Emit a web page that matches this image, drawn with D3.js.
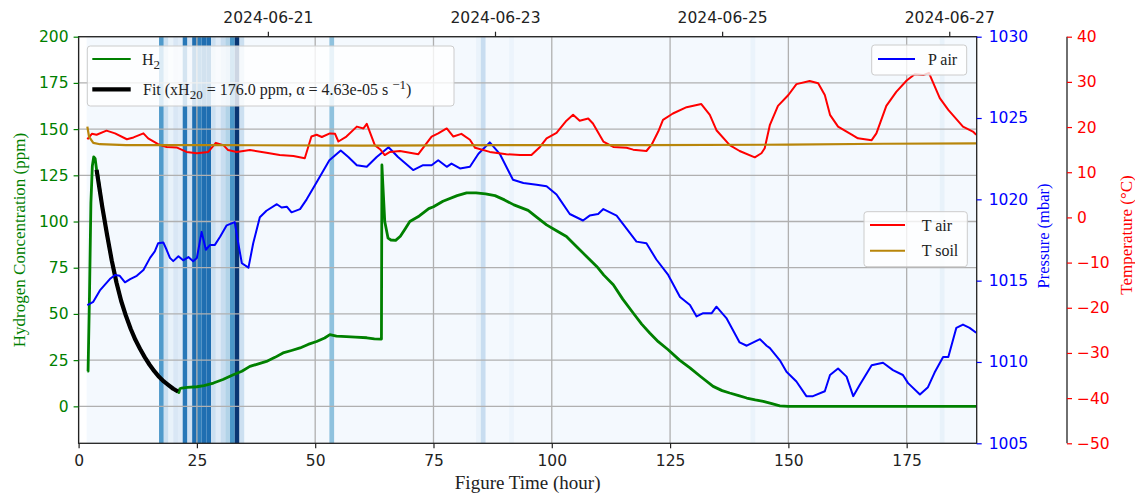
<!DOCTYPE html>
<html><head><meta charset="utf-8">
<script src="https://cdn.jsdelivr.net/npm/d3@7"></script>
<style>body{margin:0;background:#fff} svg{display:block}</style>
</head><body>
<svg id="chart" width="1135" height="496"></svg>
<script>
// ---------------- DATA ----------------
const h2Hours = [1.85,2.0,2.3,2.6,2.9,3.2,3.5,3.8,4.0,5,6,7,8,9,10,11,12,13,14,15,16,17,18,19,20,20.9,21.2,21.4,21.8,23,25,26.5,28.5,30.5,32.7,34.5,36.2,38,39.7,41.5,43.2,45,46.8,48.5,50.3,52,53.1,54.5,56.6,58.5,60.9,62.5,64.0,64.1,64.3,64.7,65.4,66,67,68,69,70,72,74,75,77,80,82,84,86,88,90,92,95,97,98.9,101,103.1,105,107.4,109.5,111,113,115,117.2,119,120.7,122.5,124.6,127,129.2,131.5,134.1,136,137.6,139.5,141.2,143,144.7,146.5,148.2,150,189.8];
const h2Ppm   = [19,19,60,110,130,135,134,128,126,108,93,79,67,57,49,42,36,31,26.5,22.5,19,16,13.5,11.5,9.5,8,7.5,9.5,9.9,10.3,10.6,11.2,12.6,14.5,17.1,19,21.6,23,24.3,26.5,28.9,30.2,31.6,33.5,35.1,37,38.8,38,37.7,37.5,37.1,36.5,36.4,130.6,120,100,91,90,89.8,92,96,100,103,107,108,111,114,115.5,115.5,115,114,111.7,109,106,102,98.2,95,91.9,87,81,75.7,71,65.8,58,50.5,44.5,39.7,35,30.6,25,20.8,16,10.8,8.5,7.2,5.8,4.5,3.5,2.7,1.5,0.3,0,0];

const fitHours = [3.8,5,6,7,8,9,10,11,12,13,14,15,16,17,18,19,20,21];
const fitPpm   = [128,108,93,79,67,57,49,42,36,31,26.5,22.5,19,16,13.5,11.5,9.5,8];

const pHours = [1.85,3.1,4.5,6.6,7.7,8.7,9.8,10.9,12.3,13.7,15.1,16.1,16.8,17.9,18.6,19.3,20,21.1,22.1,23.2,24.2,25,26,26.9,27.8,28.8,29.9,31.3,33,33.5,34.5,35.9,36.9,38.3,39.7,41.9,42.9,44,45,46.8,48.2,50,53,55.4,57,58.8,60.9,63,65.5,67.5,70.7,72.8,74.6,76,77.8,78.8,80.6,82.7,84.5,86.9,89,91.8,94,96.8,98.9,101,101.7,103.8,106.6,108,109.8,110.9,113.7,115.8,117.9,120,122.1,124.6,127.1,129.2,130.6,132,133.8,134.8,136.9,139.7,141.2,144,145.4,146.1,148.2,149.6,151.7,153.8,155.2,157.7,158.8,160.5,162.3,163.7,165.1,167.6,170,172.1,174.2,175.3,177.8,179.5,180.9,182.7,183.8,185.5,186.9,188.3,189.7];
const pMbar  = [1013.5,1013.7,1014.4,1015.1,1015.35,1015.3,1014.9,1015.1,1015.3,1015.65,1016.4,1016.8,1017.3,1017.35,1016.9,1016.4,1016.2,1016.5,1016.25,1016.45,1016.2,1016.4,1018.0,1016.9,1017.2,1017.2,1017.7,1018.4,1018.6,1017.7,1016.07,1015.8,1017.3,1018.9,1019.3,1019.7,1019.5,1019.55,1019.2,1019.4,1020.0,1020.9,1022.4,1023.0,1022.6,1022.1,1022.0,1022.6,1023.2,1022.6,1021.8,1022.1,1022.1,1022.4,1022.0,1022.2,1021.9,1022.0,1022.8,1023.5,1022.8,1021.2,1021.0,1020.9,1020.8,1020.3,1020.0,1019.1,1018.7,1019.0,1019.1,1019.4,1019.0,1018.2,1017.4,1017.3,1016.3,1015.35,1014.0,1013.5,1012.8,1013.0,1013.0,1013.4,1012.7,1011.2,1011.0,1011.4,1011.0,1010.85,1010.1,1009.4,1008.8,1007.9,1007.9,1008.2,1009.2,1009.6,1009.1,1007.9,1008.6,1009.8,1009.95,1009.5,1009.2,1008.7,1008.0,1008.45,1009.35,1010.3,1010.3,1012.1,1012.3,1012.1,1011.8];

const tAirHours = [1.85,2.8,3.8,5.9,7.7,10.2,11.6,13.7,14.7,16.8,18.6,20.7,22.8,25,27.4,29,30.6,31.6,33.4,36.2,39.7,42.5,45.4,47.8,49.2,50.3,51.4,53.1,54.2,54.9,56.6,58.8,60.2,60.9,62.6,63.7,64.7,65.8,67.9,71.8,74.6,76,77.8,79.2,80.9,82.7,83.8,86.9,90.4,93.3,95.7,97.5,98.9,101,103.1,104.5,105.9,107.7,108.7,110.9,113,115.8,117.2,120,121.1,122.5,123.5,125.6,128.5,131.6,133.4,134.8,137.6,139.7,142.9,144.3,145,146.1,147.8,150,151.7,154.5,156.3,157.7,158.8,160.5,162.3,163.3,164.7,167.6,168.6,170.7,172.8,175,176.7,178.5,179.7,182,183.8,186.9,189,189.7];
const tAirC = [17.3,18.5,18.3,19.2,18.6,17.3,17.7,18.6,17.5,16.2,15.6,15.5,14.5,14.2,14.5,16.5,16.0,14.9,14.5,14.9,14.3,13.8,13.6,13.1,17.9,18.3,17.8,18.6,18.5,16.8,17.9,20.1,19.7,20.7,16.0,15.1,13.8,14.5,14.7,14.0,17.9,18.6,19.7,17.9,18.5,17.2,15.4,14.5,14.0,13.8,13.8,15.6,17.5,18.7,21.4,22.7,21.4,21.9,20.8,16.8,15.6,15.4,15.0,14.7,16.1,19.0,21.6,23.0,24.4,25.1,22.7,19.3,16.0,14.7,13.3,14.2,15.3,20.5,24.7,27.1,29.5,30.2,29.7,27.1,22.7,20.1,19.0,18.4,17.5,17.1,18.6,24.7,27.8,30.3,31.7,31.5,32.0,26.4,23.8,20.1,19.0,18.3];

const tSoilHours = [1.85,2.2,3.1,4.5,10,30,60,90,120,150,170,189.7];
const tSoilC = [20.1,17.9,16.5,16.2,16.0,16.0,15.9,16.0,16.0,16.1,16.3,16.4];

// rain intensity bands (hour cell start, relative intensity 0..1)
const rainHours = [17,18,19,20,21,22,23,24,25,26,27,28,29,30,31,32,33,34,53,84,85,91,142,182];
const rainLevel = [0.58,0.2,0.06,0.14,0.1,0.72,0.18,0.76,0.7,0.76,0.76,0.2,0.1,0.22,0.3,0.6,0.98,0.2,0.4,0.05,0.22,0.04,0.05,0.06];
const rainStartHour = 1.7;

const xTicks = [0,25,50,75,100,125,150,175];
const yTicks = [0,25,50,75,100,125,150,175,200];
const pTicks = [1005,1010,1015,1020,1025,1030];
const tTicks = [-50,-40,-30,-20,-10,0,10,20,30,40];
const startTime = Date.UTC(2024,5,19,8,0);

// ---------------- CHART ----------------
const svg = d3.select("#chart");
const L = 78.6, R = 976.7, T = 36.7, B = 443.3;
const xMax = 189.8;
const x = d3.scaleLinear().domain([0,xMax]).range([L,R]);
const y = d3.scaleLinear().domain([-20,200]).range([B,T]);
const yP = d3.scaleLinear().domain([1005,1030]).range([B,T]);
const yT = d3.scaleLinear().domain([-50,40]).range([B,T]);
const xTime = d3.scaleUtc().domain([new Date(startTime), new Date(startTime + xMax*3600e3)]).range([L,R]);
const blues = v => d3.interpolateBlues(0.015 + 0.985*v);

svg.append("defs").append("clipPath").attr("id","clip")
  .append("rect").attr("x",L).attr("y",T).attr("width",R-L).attr("height",B-T);
const plot = svg.append("g").attr("clip-path","url(#clip)");

// background rain shading
plot.append("rect").attr("x",x(rainStartHour)).attr("y",T).attr("width",R-x(rainStartHour)).attr("height",B-T)
  .attr("fill",blues(0));
plot.selectAll("rect.rain").data(rainHours.map((h,i)=>({h,v:rainLevel[i]}))).join("rect")
  .attr("class","rain").attr("x",d=>x(d.h)).attr("width",d=>x(d.h+1)-x(d.h)).attr("y",T).attr("height",B-T)
  .attr("fill",d=>blues(d.v));

// grid
const gridC = "#b0b0b0";
plot.selectAll("line.gx").data(xTicks).join("line").attr("x1",d=>x(d)).attr("x2",d=>x(d)).attr("y1",T).attr("y2",B)
  .attr("stroke",gridC).attr("stroke-width",1.3);
plot.selectAll("line.gy").data(yTicks).join("line").attr("y1",d=>y(d)).attr("y2",d=>y(d)).attr("x1",L).attr("x2",R)
  .attr("stroke",gridC).attr("stroke-width",1.3);

function series(hs, vs, ys, color, w){
  const line = d3.line().x(d=>x(d[0])).y(d=>ys(d[1]));
  plot.append("path").datum(hs.map((h,i)=>[h,vs[i]])).attr("d",line)
    .attr("fill","none").attr("stroke",color).attr("stroke-width",w).attr("stroke-linejoin","round");
}
series(h2Hours,h2Ppm,y,"green",2.8);
series(fitHours,fitPpm,y,"black",4.2);
series(pHours,pMbar,yP,"blue",2);
series(tAirHours,tAirC,yT,"red",2);
series(tSoilHours,tSoilC,yT,"darkgoldenrod",2.2);

// frame
svg.append("rect").attr("x",L).attr("y",T).attr("width",R-L).attr("height",B-T)
  .attr("fill","none").attr("stroke","#222").attr("stroke-width",1.3);

// axes
const tickFont = "DejaVu Sans";
function styleAxis(g, color){
  g.select(".domain").remove();
  g.selectAll(".tick line").attr("stroke",color).attr("stroke-width",1.2);
  g.selectAll(".tick text").attr("fill",color).attr("font-family",tickFont).attr("font-size",15.5);
}
const gx = svg.append("g").attr("transform",`translate(0,${B})`)
  .call(d3.axisBottom(x).tickValues(xTicks).tickSize(5).tickPadding(7).tickFormat(d3.format("d")));
styleAxis(gx,"#222");
const gl = svg.append("g").attr("transform",`translate(${L},0)`)
  .call(d3.axisLeft(y).tickValues(yTicks).tickSize(5).tickPadding(5).tickFormat(d3.format("d")));
styleAxis(gl,"green");
const gt = svg.append("g").attr("transform",`translate(0,${T})`)
  .call(d3.axisTop(xTime).ticks(d3.utcDay.every(2)).tickSize(5).tickPadding(9).tickFormat(d3.utcFormat("%Y-%m-%d")));
styleAxis(gt,"#222");
const gp = svg.append("g").attr("transform",`translate(${R},0)`)
  .call(d3.axisRight(yP).tickValues(pTicks).tickSize(5).tickPadding(7).tickFormat(d3.format("d")));
styleAxis(gp,"blue");
const TX = 1067;
svg.append("line").attr("x1",TX).attr("x2",TX).attr("y1",T).attr("y2",B).attr("stroke","#222").attr("stroke-width",1.3);
const gtemp = svg.append("g").attr("transform",`translate(${TX},0)`)
  .call(d3.axisRight(yT).tickValues(tTicks).tickSize(5).tickPadding(5).tickFormat(d3.format("d")));
styleAxis(gtemp,"red");

// axis labels
const serif = "Liberation Serif";
svg.append("text").attr("x",(L+R)/2).attr("y",489).attr("text-anchor","middle")
  .attr("font-family",serif).attr("font-size",19).attr("fill","#222").text("Figure Time (hour)");
svg.append("text").attr("transform","translate(25,240) rotate(-90)").attr("text-anchor","middle")
  .attr("font-family",serif).attr("font-size",17).attr("fill","green").text("Hydrogen Concentration (ppm)");
svg.append("text").attr("transform","translate(1049,236) rotate(-90)").attr("text-anchor","middle")
  .attr("font-family",serif).attr("font-size",16.5).attr("fill","blue").text("Pressure (mbar)");
svg.append("text").attr("transform","translate(1132,235) rotate(-90)").attr("text-anchor","middle")
  .attr("font-family",serif).attr("font-size",17).attr("fill","red").text("Temperature (°C)");

// legends
function legendBox(x0,y0,x1,y1){
  svg.append("rect").attr("x",x0).attr("y",y0).attr("width",x1-x0).attr("height",y1-y0).attr("rx",3)
    .attr("fill","white").attr("fill-opacity",0.8).attr("stroke","#cccccc").attr("stroke-width",1);
}
function legendLine(x0,x1,yy,color,w){
  svg.append("line").attr("x1",x0).attr("x2",x1).attr("y1",yy).attr("y2",yy).attr("stroke",color).attr("stroke-width",w);
}
function legendText(x0,yy){
  return svg.append("text").attr("x",x0).attr("y",yy+5.5).attr("font-family",serif).attr("font-size",16).attr("fill","#222");
}
legendBox(87.3,46,454,106);
legendLine(92.3,130.7,59,"green",2);
const t1 = legendText(142,59); t1.append("tspan").text("H");
t1.append("tspan").attr("dy",4).attr("font-size",13).text("2");
legendLine(92.3,130.7,89.3,"black",4.2);
const t2 = legendText(143,89.3);
t2.append("tspan").text("Fit (xH");
t2.append("tspan").attr("dy",4).attr("font-size",13).text("20");
t2.append("tspan").attr("dy",-4).text(" = 176.0 ppm, α = 4.63e-05 s ");
t2.append("tspan").attr("dy",-6).attr("font-size",13).text("−1");
t2.append("tspan").attr("dy",6).text(")");

legendBox(871.7,45,966.7,75);
legendLine(878,915,59,"blue",2);
legendText(928,59).text("P air");

legendBox(864,211.7,967.3,266.7);
legendLine(870,905,225,"red",2);
legendText(921.7,225).text("T air");
legendLine(870,905,250.7,"darkgoldenrod",2);
legendText(921.7,250.7).text("T soil");
</script>
</body></html>
